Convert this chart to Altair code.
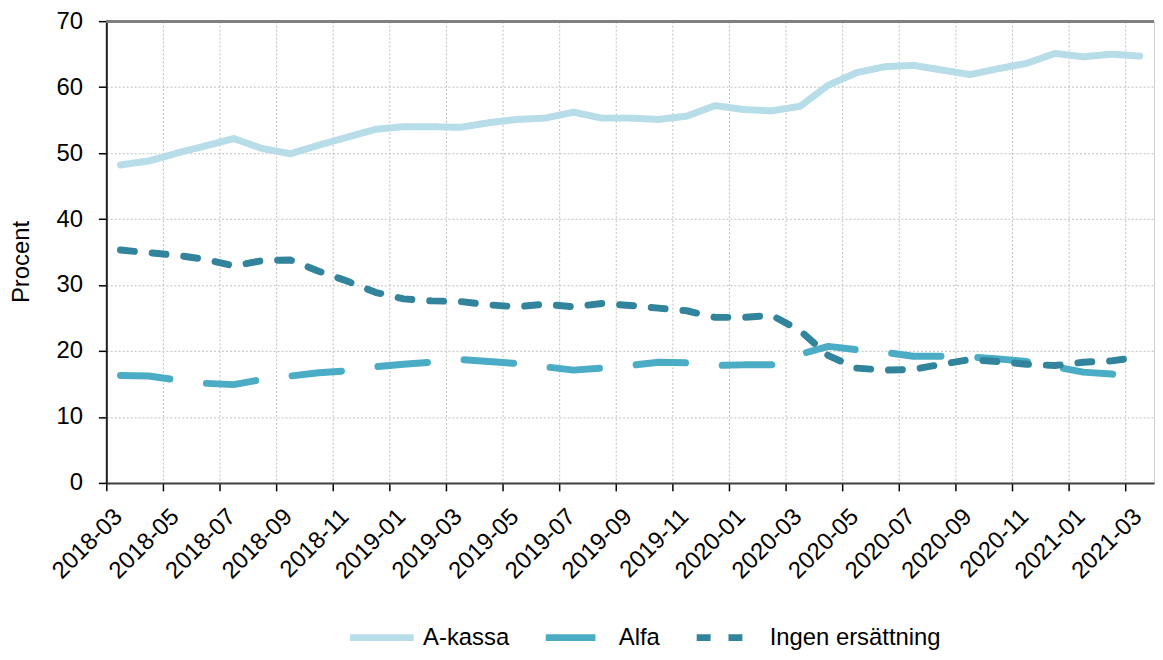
import json
import altair as alt
import pandas as pd

months = [
    "2018-03", "2018-04", "2018-05", "2018-06", "2018-07", "2018-08", "2018-09", "2018-10",
    "2018-11", "2018-12", "2019-01", "2019-02", "2019-03", "2019-04", "2019-05", "2019-06",
    "2019-07", "2019-08", "2019-09", "2019-10", "2019-11", "2019-12", "2020-01", "2020-02",
    "2020-03", "2020-04", "2020-05", "2020-06", "2020-07", "2020-08", "2020-09", "2020-10",
    "2020-11", "2020-12", "2021-01", "2021-02", "2021-03",
]

a_kassa = [48.2, 48.8, 50.0, 51.1, 52.2, 50.7, 49.9, 51.2, 52.4, 53.6, 54.0, 54.0, 53.9,
           54.6, 55.1, 55.3, 56.2, 55.3, 55.3, 55.1, 55.6, 57.2, 56.6, 56.4, 57.1, 60.3,
           62.2, 63.1, 63.3, 62.6, 61.9, 62.8, 63.6, 65.1, 64.6, 65.0, 64.7]

alfa = [16.3, 16.2, 15.6, 15.1, 14.9, 15.7, 16.2, 16.7, 17.0, 17.6, 18.0, 18.3, 18.7,
        18.4, 18.1, 17.6, 17.1, 17.4, 17.8, 18.3, 18.2, 17.8, 17.9, 17.9, 19.5, 20.7,
        20.2, 19.8, 19.2, 19.2, 19.1, 18.8, 18.4, 17.6, 16.8, 16.5, 16.1]

ingen = [35.3, 34.9, 34.5, 33.9, 32.9, 33.7, 33.8, 32.1, 30.6, 28.9, 27.9, 27.6, 27.5,
         27.0, 26.7, 27.1, 26.7, 27.2, 26.9, 26.5, 26.1, 25.1, 25.1, 25.4, 23.1, 19.3,
         17.4, 17.1, 17.2, 18.0, 18.7, 18.4, 18.0, 17.8, 18.3, 18.5, 19.1]

series_names = ["A-kassa", "Alfa", "Ingen ersättning"]
series_colors = ["#b7dde8", "#4bacc6", "#31849b"]
series_dashes = [[1, 0], [50, 37], [14, 18]]

tick_labels = months[::2]

rows = []
for name, vals in zip(series_names, [a_kassa, alfa, ingen]):
    for i, (m, v) in enumerate(zip(months, vals)):
        rows.append({"serie": name, "idx": i, "manad": m, "procent": v})
df = pd.DataFrame(rows)

tick_values = [months.index(t) - 0.5 for t in tick_labels]
label_expr = json.dumps(months) + "[round(datum.value + 0.5)]"

FONT = "Liberation Sans"
W, H = 1055, 465

lines = alt.Chart(df).mark_line(strokeWidth=7, strokeCap="round", strokeJoin="round").encode(
    x=alt.X(
        "idx:Q",
        scale=alt.Scale(domain=[-0.5, 36.5], nice=False, zero=False),
        axis=alt.Axis(
            values=tick_values,
            labelExpr=label_expr,
            title=None,
            labelAngle=-45,
            labelAlign="right",
            labelBaseline="middle",
            labelPadding=22,
            labelOffset=12,
            tickSize=8,
            tickColor="#000000",
            tickWidth=1.5,
            domainColor="#404040",
            domainWidth=2,
            grid=True,
            gridColor="#bfbfbf",
            gridDash=[2, 2],
            gridWidth=1,
            labelFlush=False,
            labelOverlap=False,
        ),
    ),
    y=alt.Y(
        "procent:Q",
        scale=alt.Scale(domain=[0, 70], nice=False),
        axis=alt.Axis(
            values=[0, 10, 20, 30, 40, 50, 60, 70],
            title="Procent",
            titleX=-85,
            titleY=242,
            titleAngle=-90,
            titleAlign="center",
            titleBaseline="middle",
            titleFontWeight="normal",
            titleFontSize=24,
            labelPadding=16,
            tickSize=8,
            tickColor="#000000",
            tickWidth=1.5,
            domainColor="#202020",
            domainWidth=2,
            grid=True,
            gridColor="#bfbfbf",
            gridDash=[2, 2],
            gridWidth=1,
        ),
    ),
    color=alt.Color(
        "serie:N",
        scale=alt.Scale(domain=series_names, range=series_colors),
        legend=alt.Legend(title=None),
    ),
    strokeDash=alt.StrokeDash(
        "serie:N",
        scale=alt.Scale(domain=series_names, range=series_dashes),
        legend=alt.Legend(title=None),
    ),
    detail="serie:N",
)

top_rule = alt.Chart(df).mark_rule(color="#808080", strokeWidth=2).encode(y=alt.value(0))

chart = (
    alt.layer(lines, top_rule)
    .properties(
        width=W,
        height=H,
        autosize=alt.AutoSizeParams(type="none"),
        padding={"left": 99, "top": 11, "right": 1, "bottom": 168},
    )
    .configure_view(stroke="#d0d0d0", strokeWidth=1)
    .configure_axis(labelFont=FONT, titleFont=FONT, labelFontSize=24, labelColor="#000000", titleColor="#000000")
    .configure_legend(
        orient="none",
        legendX=242,
        legendY=585,
        direction="horizontal",
        symbolType="stroke",
        symbolSize=4096,
        symbolStrokeWidth=7,
        labelFont=FONT,
        labelFontSize=24,
        labelColor="#000000",
        labelOffset=6,
        columnPadding=22,
        labelLimit=400,
    )
)

chart.save("out.html", embed_options={"renderer": "svg", "actions": False})
